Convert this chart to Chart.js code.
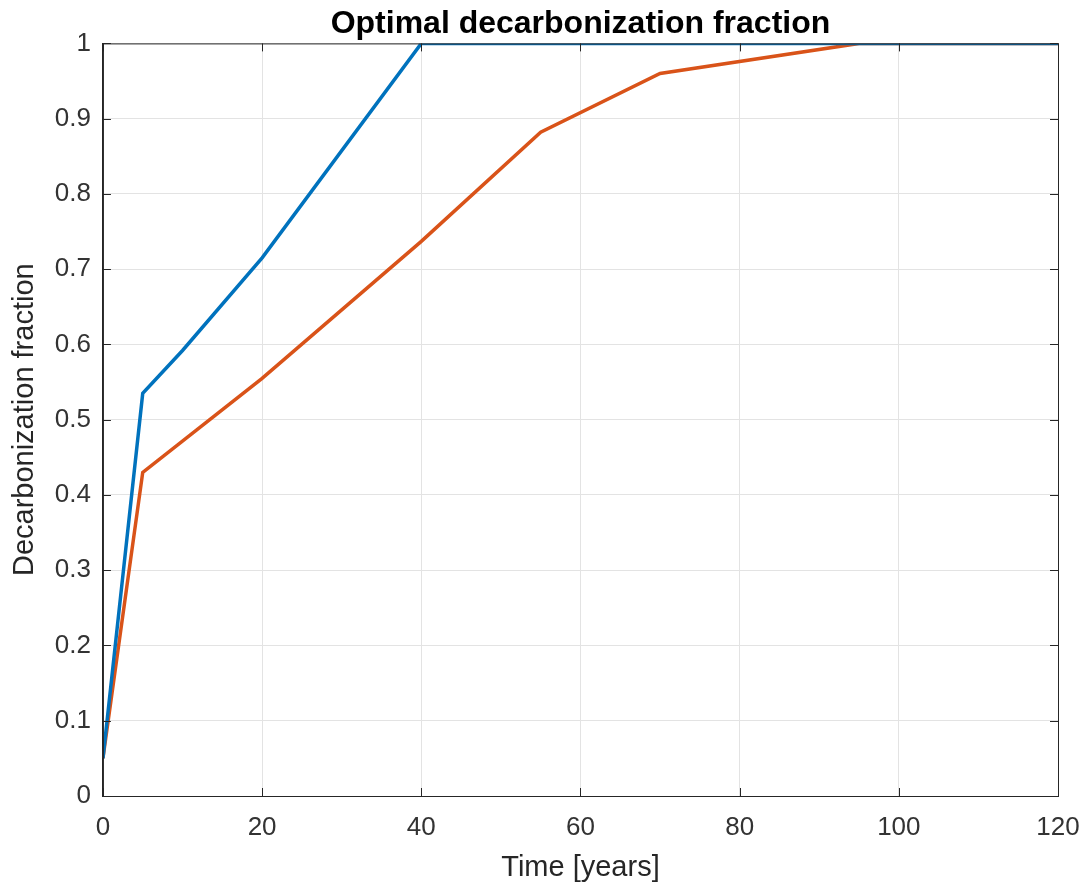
<!DOCTYPE html>
<html>
<head>
<meta charset="utf-8">
<script src="https://cdn.jsdelivr.net/npm/chart.js@4.4.1/dist/chart.umd.min.js"></script>
<style>
  html, body { margin: 0; padding: 0; background: #fff; }
  #wrap { width: 1086px; height: 886px; }
</style>
</head>
<body>
<div id="wrap"><canvas id="chart" width="1086" height="886"></canvas></div>
<script>
// values
const blueYears = [0, 5, 10, 20, 40, 120];
const blueFrac = [0.05, 0.535, 0.592, 0.715, 1, 1];
const orangeYears = [0, 5, 20, 40, 55, 70, 95, 120];
const orangeFrac = [0.05, 0.43, 0.555, 0.737, 0.882, 0.96, 1, 1];
const xTicks = [0, 20, 40, 60, 80, 100, 120];

const toPoints = (xs, ys) => xs.map((x, i) => ({ x: x, y: ys[i] }));

// MATLAB-style box with inward tick marks
const boxPlugin = {
  id: 'box',
  afterDraw(chart) {
    const a = chart.chartArea;
    const ctx = chart.ctx;
    const len = 8;
    ctx.save();
    ctx.strokeStyle = '#262626';
    ctx.lineWidth = 1;
    ctx.strokeRect(a.left + 0.5, a.top + 0.5, a.right - a.left, a.bottom - a.top);
    ctx.beginPath();
    chart.scales.x.ticks.forEach(t => {
      const px = Math.round(chart.scales.x.getPixelForValue(t.value)) + 0.5;
      ctx.moveTo(px, a.bottom); ctx.lineTo(px, a.bottom - len);
      ctx.moveTo(px, a.top); ctx.lineTo(px, a.top + len);
    });
    chart.scales.y.ticks.forEach(t => {
      const py = Math.round(chart.scales.y.getPixelForValue(t.value)) + 0.5;
      ctx.moveTo(a.left, py); ctx.lineTo(a.left + len, py);
      ctx.moveTo(a.right, py); ctx.lineTo(a.right - len, py);
    });
    ctx.stroke();
    ctx.restore();
  }
};

new Chart(document.getElementById('chart').getContext('2d'), {
  type: 'line',
  data: {
    datasets: [
      {
        label: 'Blue',
        data: toPoints(blueYears, blueFrac),
        borderColor: '#0072BD',
        borderWidth: 3.5,
        pointRadius: 0,
        tension: 0,
        fill: false
      },
      {
        label: 'Orange',
        data: toPoints(orangeYears, orangeFrac),
        borderColor: '#D95319',
        borderWidth: 3.5,
        pointRadius: 0,
        tension: 0,
        fill: false
      }
    ]
  },
  options: {
    responsive: false,
    animation: false,
    layout: { padding: { left: 0, right: 0, top: 0, bottom: 0 } },
    plugins: {
      legend: { display: false },
      tooltip: { enabled: false },
      title: {
        display: true,
        fullSize: false,
        text: 'Optimal decarbonization fraction',
        color: '#000',
        font: { family: 'Liberation Sans', size: 32, weight: 'bold' },
        padding: { top: 5, bottom: 0 }
      }
    },
    scales: {
      x: {
        type: 'linear',
        min: 0,
        max: 120,
        afterBuildTicks: axis => { axis.ticks = xTicks.map(v => ({ value: v })); },
        afterFit: axis => { axis.paddingRight = 28; },
        grid: { color: '#e3e3e3', drawTicks: false },
        border: { color: '#262626' },
        ticks: { color: '#333', padding: 19, maxRotation: 0, font: { family: 'Liberation Sans', size: 26, lineHeight: 1 } },
        title: {
          display: true,
          text: 'Time [years]',
          color: '#262626',
          font: { family: 'Liberation Sans', size: 29, lineHeight: 1 },
          padding: { top: -7, bottom: 4 }
        }
      },
      y: {
        min: 0,
        max: 1,
        ticks: {
          stepSize: 0.1,
          color: '#333',
          padding: 12,
          font: { family: 'Liberation Sans', size: 26 },
          callback: v => String(Math.round(v * 10) / 10)
        },
        grid: { color: '#e3e3e3', drawTicks: false },
        border: { color: '#262626' },
        title: {
          display: true,
          text: 'Decarbonization fraction',
          color: '#262626',
          font: { family: 'Liberation Sans', size: 29 },
          padding: { top: 8, bottom: 0 }
        }
      }
    }
  },
  plugins: [boxPlugin]
});
</script>
</body>
</html>
